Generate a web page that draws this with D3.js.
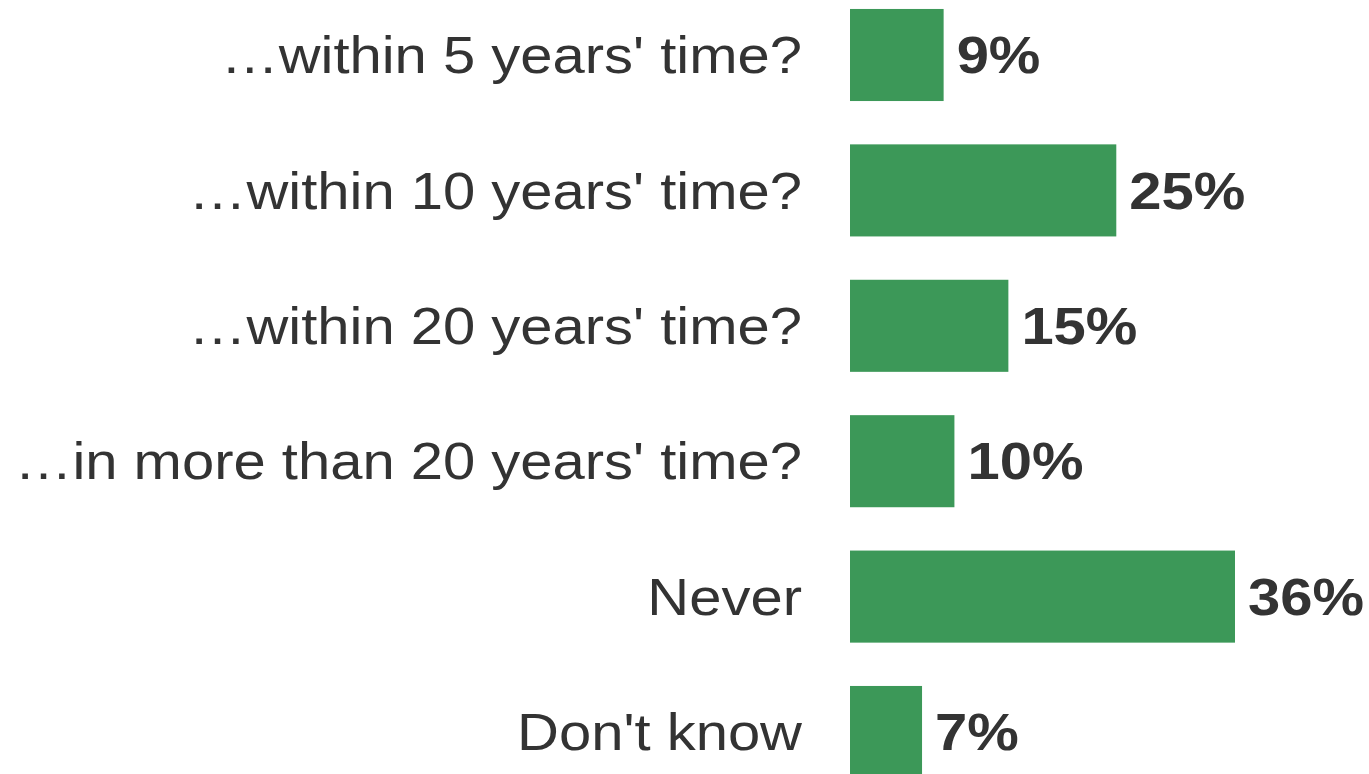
<!DOCTYPE html>
<html>
<head>
<meta charset="utf-8">
<script src="https://cdn.jsdelivr.net/npm/d3@7"></script>
<style>
  body { margin: 0; background: #fff; }
  text { font-family: "Liberation Sans", Arial, sans-serif; fill: #333; }
</style>
</head>
<body>
<div id="chart"></div>
<script>
  // Data
  const categories = [
    "\u2026within 5 years' time?",
    "\u2026within 10 years' time?",
    "\u2026within 20 years' time?",
    "\u2026in more than 20 years' time?",
    "Never",
    "Don't know"
  ];
  const values = [9, 25, 15, 10, 36, 7];

  const width = 1369, height = 774;
  const barLeft = 850;
  const green = "#3c9858";
  const fontSize = 52, stretch = 1.115;

  const svg = d3.select("#chart").append("svg")
    .attr("width", width)
    .attr("height", height);

  const x = d3.scaleLinear([0, 36], [846.5, 1235]);
  const y = d3.scaleBand(categories, [-12.7, 799.7])
    .paddingInner(0.32)
    .paddingOuter(0.16);

  // bars
  svg.append("g")
    .selectAll("rect")
    .data(values)
    .join("rect")
      .attr("x", barLeft)
      .attr("y", (_, i) => y(categories[i]))
      .attr("width", d => x(d) - barLeft)
      .attr("height", y.bandwidth())
      .attr("fill", green);

  // category labels (glyphs slightly widened, like the original's font)
  svg.append("g")
    .selectAll("text")
    .data(categories)
    .join("text")
      .attr("transform", d =>
        `translate(802,${y(d) + y.bandwidth() / 2}) scale(${stretch},1)`)
      .attr("dy", "0.35em")
      .attr("text-anchor", "end")
      .style("font-size", fontSize + "px")
      .text(d => d);

  // value labels
  svg.append("g")
    .selectAll("text")
    .data(values)
    .join("text")
      .attr("transform", (d, i) =>
        `translate(${x(d) + 13},${y(categories[i]) + y.bandwidth() / 2}) scale(${stretch},1)`)
      .attr("dy", "0.35em")
      .style("font-size", fontSize + "px")
      .style("font-weight", "bold")
      .text(d => d + "%");
</script>
</body>
</html>
